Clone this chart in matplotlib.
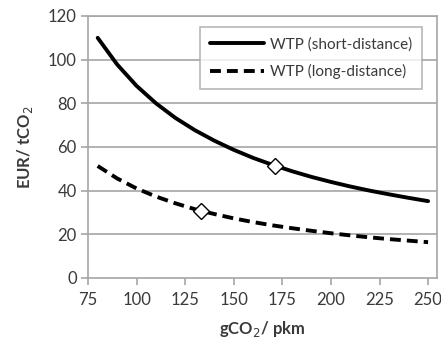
import matplotlib
matplotlib.use("Agg")
import matplotlib.pyplot as plt

plt.rcParams['font.family'] = ['Lato', 'DejaVu Sans']

# Emission intensity (gCO2/pkm) and willingness to pay (EUR/tCO2)
emission = [80, 90, 100, 110, 120, 130, 140, 150, 160, 170, 180, 190,
            200, 210, 220, 230, 240, 250]
wtp_short = [110, 97.8, 88, 80, 73.3, 67.7, 62.9, 58.7, 55, 51.8, 48.9,
             46.3, 44, 41.9, 40, 38.3, 36.7, 35.2]
wtp_long = [51.3, 45.6, 41, 37.3, 34.2, 31.5, 29.3, 27.3, 25.6, 24.1, 22.8,
            21.6, 20.5, 19.5, 18.6, 17.8, 17.1, 16.4]

# Reference points on each curve
ref_short = (171, 51.5)
ref_long = (133, 30.8)

x_ticks = [75, 100, 125, 150, 175, 200, 225, 250]
y_ticks = [0, 20, 40, 60, 80, 100, 120]

fig = plt.figure(figsize=(4.41, 3.44), dpi=100)
ax = fig.add_axes([0.1995, 0.1919, 0.7915, 0.7616])

grid_c = '#a6a6a6'
text_c = '#3a3a3a'

for y in y_ticks[1:]:
    ax.axhline(y, color=grid_c, lw=1.2, zorder=1)

ax.plot(emission, wtp_short, color='black', lw=2.8, solid_capstyle='round',
        label='WTP (short-distance)', zorder=3)
ax.plot(emission, wtp_long, color='black', lw=2.8, dashes=(2.8, 1.55),
        dash_capstyle='butt', label='WTP (long-distance)', zorder=3)

ax.plot(*ref_short, marker='D', ms=8.5, mfc='white', mec='black', mew=1.0,
        zorder=4)
ax.plot(*ref_long, marker='D', ms=8.5, mfc='white', mec='black', mew=1.0,
        zorder=4)

ax.set_xlim(75, 254.6)
ax.set_ylim(0, 120)
ax.set_xticks(x_ticks)
ax.set_yticks(y_ticks)
ax.tick_params(axis='both', colors=grid_c, labelcolor=text_c, labelsize=12,
               length=5, width=1.2, direction='out')
ax.tick_params(axis='x', pad=5)
ax.tick_params(axis='y', pad=3)
for s in ax.spines.values():
    s.set_color(grid_c)
    s.set_linewidth(1.2)

ax.set_xlabel('gCO$_2$/ pkm', fontsize=12, fontweight='bold', color=text_c,
              labelpad=8)
ax.set_ylabel('EUR/ tCO$_2$', fontsize=12, fontweight='bold', color=text_c,
              labelpad=9)

leg = ax.legend(loc='upper right', bbox_to_anchor=(0.957, 0.958),
                borderaxespad=0, fontsize=11, frameon=True, fancybox=False,
                handlelength=3.5, handletextpad=0.4, borderpad=0.65,
                labelspacing=0.85, labelcolor=text_c)
leg.get_frame().set_edgecolor(grid_c)
leg.get_frame().set_linewidth(1.2)

fig.savefig('out.png', dpi=100)
